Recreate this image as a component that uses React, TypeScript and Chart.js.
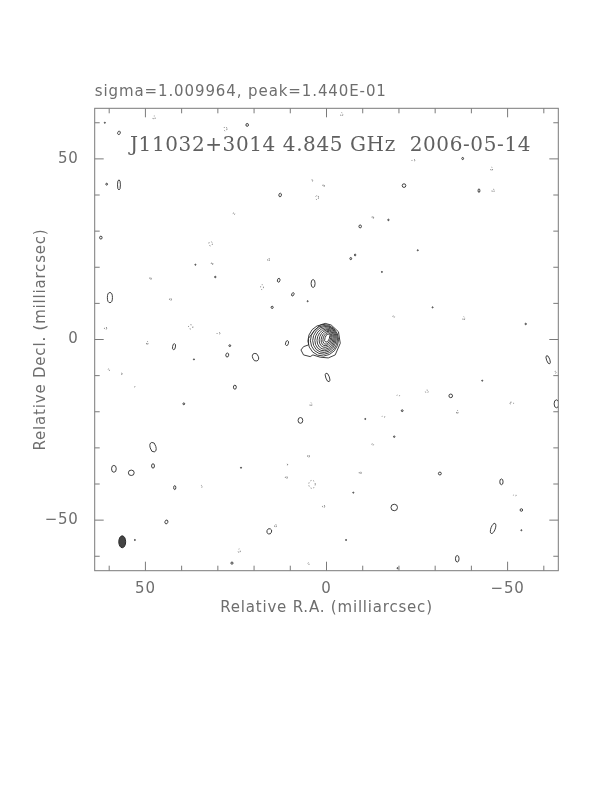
import React, { useEffect, useRef } from "react";
import { Chart, registerables } from "chart.js";

Chart.register(...registerables);

// ---------- text ----------
const HEADER = "sigma=1.009964, peak=1.440E-01";
const TITLE = "J11032+3014 4.845 GHz  2006-05-14";
const X_LABEL = "Relative R.A. (milliarcsec)";
const Y_LABEL = "Relative Decl. (milliarcsec)";

// ---------- axes (milliarcsec) ----------
const AXIS_MIN = -64;
const AXIS_MAX = 64;
const LABEL_TICKS = [-50, 0, 50];
const MINOR_TICKS = [-60, -50, -40, -30, -20, -10, 0, 10, 20, 30, 40, 50, 60];

// ---------- positive contours: [RA, Dec, width, height, tiltDeg] (mas) ----------
const POS_CONTOURS: number[][] = [
  [57.3, 57.2, 0.7, 1.0, 20], [21.9, 59.4, 0.7, 0.8, 0], [57.3, 42.8, 0.8, 2.8, 0],
  [12.8, 40.0, 0.7, 1.0, 10], [62.3, 28.2, 0.7, 0.8, 0], [13.2, 16.4, 0.7, 1.1, 15],
  [3.7, 15.5, 1.1, 2.2, 0], [9.3, 12.5, 0.6, 1.0, 25], [59.8, 11.6, 1.4, 2.8, 0],
  [30.7, 17.3, 0.4, 0.4, 0], [15.0, 8.9, 0.6, 0.6, 0], [-37.6, 50.1, 0.5, 0.6, 0],
  [-21.4, 42.6, 1.0, 1.0, 0], [-42.1, 41.2, 0.5, 1.0, 0], [-9.3, 31.3, 0.7, 0.8, 0],
  [-17.1, 33.1, 0.4, 0.4, 0], [-6.7, 22.4, 0.5, 0.6, 0], [-7.9, 23.4, 0.4, 0.5, 0],
  [-55.0, 4.3, 0.4, 0.4, 0], [42.1, -2.0, 0.8, 1.7, 10], [26.7, -1.7, 0.5, 0.5, 0],
  [27.4, -4.3, 0.8, 1.1, 10], [19.6, -4.9, 1.6, 2.2, -20], [10.9, -1.0, 0.8, 1.4, 15],
  [25.3, -13.2, 0.8, 1.1, 0], [-0.3, -10.5, 1.0, 2.5, -20], [39.4, -17.8, 0.5, 0.5, 0],
  [7.2, -22.4, 1.3, 1.6, 0], [47.9, -29.8, 1.6, 2.7, -15], [58.7, -35.8, 1.3, 1.9, 0],
  [53.9, -36.9, 1.6, 1.5, 0], [47.9, -35.0, 0.8, 1.2, 0], [41.9, -41.0, 0.6, 1.1, 0],
  [44.2, -50.5, 0.8, 1.1, 20], [15.8, -53.1, 1.3, 1.5, 20], [26.1, -61.9, 0.6, 0.6, 0],
  [-61.2, -5.6, 0.9, 2.4, -20], [-63.5, -17.8, 1.3, 2.2, 0], [-34.3, -15.6, 1.0, 1.0, 0],
  [-20.9, -19.7, 0.5, 0.5, 0], [-31.3, -37.1, 0.8, 0.8, 0], [-48.3, -39.4, 0.9, 1.6, 0],
  [-18.7, -46.5, 1.8, 1.8, 0], [-53.8, -47.2, 0.7, 0.7, 0], [-46.0, -52.3, 1.2, 3.0, 20],
  [-36.1, -60.7, 1.0, 1.8, 0], [-18.7, -26.9, 0.4, 0.4, 0], [60.7, 43.0, 0.5, 0.5, 0],
  [61.2, 60.0, 0.3, 0.3, 0], [36.2, 20.7, 0.3, 0.3, 0], [5.2, 10.6, 0.3, 0.3, 0],
  [-25.2, 24.7, 0.3, 0.3, 0], [-15.3, 18.7, 0.3, 0.3, 0], [-29.3, 8.9, 0.3, 0.3, 0],
  [-43.0, -11.4, 0.3, 0.3, 0], [-10.7, -22.0, 0.3, 0.3, 0], [-7.4, -42.4, 0.3, 0.3, 0],
  [-53.8, -52.8, 0.3, 0.3, 0], [-5.4, -55.5, 0.3, 0.3, 0], [36.6, -5.5, 0.3, 0.3, 0],
  [23.6, -35.5, 0.3, 0.3, 0], [52.9, -55.5, 0.3, 0.3, 0], [-19.6, -63.3, 0.3, 0.3, 0],
];

// ---------- negative contours: [RA, Dec, width, height] (mas) ----------
const NEG_CONTOURS: number[][] = [
  [47.6, 61.4, 0.6, 1.0], [27.9, 58.3, 0.8, 1.2], [-4.2, 62.3, 0.6, 1.0], [-24.0, 49.6, 0.8, 0.6],
  [-45.6, 47.2, 0.5, 1.0], [-46.0, 41.2, 0.6, 0.9], [4.0, 44.0, 0.4, 0.5], [2.6, 39.3, 0.8, 1.2],
  [0.8, 42.6, 0.4, 0.8], [25.6, 34.8, 0.6, 0.4], [32.0, 26.5, 1.0, 1.2], [31.6, 21.0, 0.4, 0.8],
  [16.0, 22.1, 0.5, 0.9], [48.6, 16.9, 0.4, 0.8], [17.8, 14.5, 0.8, 1.4], [43.1, 11.1, 0.5, 0.8],
  [-12.8, 33.8, 0.4, 0.8], [37.5, 3.5, 1.2, 1.2], [29.8, 1.7, 0.8, 0.6], [61.0, 3.1, 0.6, 0.8],
  [49.5, -1.0, 0.4, 1.0], [60.1, -8.4, 0.4, 0.6], [56.6, -9.5, 0.4, 0.4], [4.3, -18.0, 0.5, 1.0],
  [5.0, -32.3, 0.5, 0.8], [10.9, -34.6, 0.3, 0.4], [11.1, -38.2, 0.5, 0.8], [4.0, -40.1, 1.8, 2.2],
  [34.5, -40.7, 0.3, 0.6], [0.8, -46.2, 0.6, 0.8], [14.1, -51.6, 0.5, 0.9], [24.1, -58.5, 0.6, 1.1],
  [5.0, -62.1, 0.4, 0.6], [-63.2, -9.1, 0.4, 0.6], [-27.7, -14.4, 0.8, 0.8], [-19.8, -15.5, 0.8, 0.3],
  [-36.1, -20.1, 0.4, 1.0], [-51.1, -17.6, 1.2, 0.5], [-15.7, -21.4, 0.8, 0.4], [-12.7, -29.1, 0.6, 0.4],
  [-9.3, -36.9, 0.5, 0.8], [-52.0, -43.1, 0.8, 0.4], [-37.9, 5.8, 0.5, 1.0], [-18.5, 6.3, 0.6, 0.4],
  [53.0, -13.0, 0.3, 0.3],
];

// ---------- core: nested levels [RA, Dec, width, height, tiltDeg] ----------
const CORE_LEVELS: number[][] = [
  [0.9, -0.2, 8.4, 8.8, 20], [0.7, -0.1, 7.4, 8.0, 20], [0.55, 0.0, 6.4, 7.3, 20],
  [0.4, 0.05, 5.5, 6.5, 20], [0.25, 0.1, 4.6, 5.7, 20], [0.1, 0.2, 3.7, 4.9, 20],
  [0.0, 0.25, 2.8, 4.1, 20], [-0.1, 0.3, 2.0, 3.3, 20], [-0.2, 0.4, 1.2, 2.4, 20],
];
// outermost core contour (RA, Dec in mas)
const CORE_OUTER: number[][] = [
  [0.36, 4.46], [-1.3, 4.0], [-3.3, 2.15], [-3.8, -1.05], [-2.4, -4.27], [-0.5, -5.1],
  [1.74, -4.9], [3.75, -4.27], [4.5, -4.74], [6.34, -4.27], [7.05, -2.9], [6.34, -1.98],
  [4.96, -1.5], [4.96, 0.33], [3.58, 2.15], [1.74, 4.0], [0.36, 4.46],
];

// ---------- restoring beam [RA, Dec, width, height, tiltDeg] ----------
const BEAM: number[][] = [[56.4, -56.0, 1.9, 3.3, 0]];

const INK = "#2a2a2a";
const GREY = "#6e6e6e";
const FRAME = "#7a7a7a";

const toPts = (rows: number[][]) =>
  rows.map((r) => ({ x: r[0], y: r[1], w: r[2], h: r[3], a: r[4] || 0 }));

const spacingPlugin = {
  id: "textSpacing",
  beforeDraw(chart: any) {
    (chart.ctx as any).letterSpacing = "0.8px";
  },
};

const contourPlugin = {
  id: "contourEllipses",
  afterDatasetsDraw(chart: any) {
    const { ctx, chartArea, scales } = chart;
    const xs = scales.x;
    const ys = scales.y;
    const kx = Math.abs(xs.getPixelForValue(1) - xs.getPixelForValue(0));
    const ky = Math.abs(ys.getPixelForValue(1) - ys.getPixelForValue(0));
    ctx.save();
    ctx.beginPath();
    ctx.rect(chartArea.left, chartArea.top, chartArea.right - chartArea.left, chartArea.bottom - chartArea.top);
    ctx.clip();
    chart.data.datasets.forEach((ds: any, di: number) => {
      if (!ds.kind) return;
      const meta = chart.getDatasetMeta(di);
      meta.data.forEach((el: any, i: number) => {
        const d = ds.data[i];
        ctx.beginPath();
        ctx.ellipse(el.x, el.y, Math.max((d.w * kx) / 2, 0.5), Math.max((d.h * ky) / 2, 0.5), (d.a * Math.PI) / 180, 0, Math.PI * 2);
        if (ds.kind === "beam") {
          ctx.fillStyle = "#444";
          ctx.fill();
          ctx.strokeStyle = INK;
          ctx.lineWidth = 1;
          ctx.setLineDash([]);
          ctx.stroke();
        } else if (ds.kind === "neg") {
          ctx.strokeStyle = "#555";
          ctx.lineWidth = 0.8;
          ctx.setLineDash([1, 2]);
          ctx.stroke();
        } else {
          ctx.strokeStyle = INK;
          ctx.lineWidth = 0.9;
          ctx.setLineDash([]);
          ctx.stroke();
        }
      });
    });
    ctx.restore();
  },
};

const framePlugin = {
  id: "frameTicks",
  afterDraw(chart: any) {
    const { ctx, chartArea, scales } = chart;
    const { left, right, top, bottom } = chartArea;
    ctx.save();
    ctx.strokeStyle = FRAME;
    ctx.lineWidth = 1;
    ctx.setLineDash([]);
    ctx.strokeRect(left, top, right - left, bottom - top);
    ctx.beginPath();
    MINOR_TICKS.forEach((v) => {
      const major = LABEL_TICKS.includes(v);
      const len = major ? 9 : 5;
      const px = scales.x.getPixelForValue(v);
      const py = scales.y.getPixelForValue(v);
      ctx.moveTo(px, bottom); ctx.lineTo(px, bottom - len);
      ctx.moveTo(px, top); ctx.lineTo(px, top + len);
      ctx.moveTo(left, py); ctx.lineTo(left + len, py);
      ctx.moveTo(right, py); ctx.lineTo(right - len, py);
    });
    ctx.stroke();
    // header and title text
    ctx.fillStyle = GREY;
    ctx.textBaseline = "alphabetic";
    ctx.textAlign = "left";
    (ctx as any).letterSpacing = "0.9px";
    ctx.font = "15px 'DejaVu Sans'";
    ctx.fillText(HEADER, left, top - 12);
    ctx.textAlign = "center";
    (ctx as any).letterSpacing = "0.6px";
    ctx.font = "20px 'DejaVu Serif'";
    ctx.fillStyle = "#606060";
    ctx.fillText(TITLE, (left + right) / 2 + 4, top + 43);
    (ctx as any).letterSpacing = "0px";
    ctx.restore();
  },
};

export default function App() {
  const ref = useRef<HTMLCanvasElement | null>(null);
  useEffect(() => {
    if (!ref.current) return;
    const tickFont = { family: "'DejaVu Sans'", size: 15 };
    const chart = new Chart(ref.current, {
      type: "scatter",
      data: {
        datasets: [
          { kind: "core", data: toPts(CORE_LEVELS), pointRadius: 0, pointHoverRadius: 0 } as any,
          {
            data: CORE_OUTER.map((p) => ({ x: p[0], y: p[1] })),
            showLine: true,
            borderColor: INK,
            borderWidth: 0.9,
            pointRadius: 0,
            tension: 0,
          } as any,
          { kind: "pos", data: toPts(POS_CONTOURS), pointRadius: 0, pointHoverRadius: 0 } as any,
          { kind: "neg", data: toPts(NEG_CONTOURS), pointRadius: 0, pointHoverRadius: 0 } as any,
          { kind: "beam", data: toPts(BEAM), pointRadius: 0, pointHoverRadius: 0 } as any,
        ],
      },
      options: {
        responsive: false,
        animation: false,
        devicePixelRatio: 1,
        layout: { padding: { left: 31, top: 108.3, right: 53.7, bottom: 174.3 } },
        plugins: { legend: { display: false }, tooltip: { enabled: false } },
        events: [],
        scales: {
          x: {
            type: "linear",
            min: AXIS_MIN,
            max: AXIS_MAX,
            reverse: true,
            grid: { display: false, drawTicks: false },
            border: { display: false },
            afterBuildTicks: (s: any) => { s.ticks = LABEL_TICKS.map((v) => ({ value: v })); },
            afterFit: (s: any) => { s.height = 47; },
            ticks: {
              autoSkip: false,
              maxRotation: 0,
              padding: 9,
              color: GREY,
              font: tickFont,
              callback: (v: any) => (Number(v) < 0 ? "\u2212" + Math.abs(Number(v)) : String(v)),
            },
            title: { display: true, text: X_LABEL, color: GREY, font: tickFont, padding: { top: 0, bottom: 1 } },
          },
          y: {
            type: "linear",
            min: AXIS_MIN,
            max: AXIS_MAX,
            grid: { display: false, drawTicks: false },
            border: { display: false },
            afterBuildTicks: (s: any) => { s.ticks = LABEL_TICKS.map((v) => ({ value: v })); },
            afterFit: (s: any) => { s.width = 63.7; },
            ticks: {
              autoSkip: false,
              padding: 16,
              color: GREY,
              font: tickFont,
              callback: (v: any) => (Number(v) < 0 ? "\u2212" + Math.abs(Number(v)) : String(v)),
            },
            title: { display: true, text: Y_LABEL, color: GREY, font: tickFont, padding: { top: 1, bottom: 0 } },
          },
        },
      },
      plugins: [spacingPlugin, contourPlugin, framePlugin],
    });
    return () => chart.destroy();
  }, []);
  return (
    <div style={{ position: "absolute", left: 0, top: 0, width: 612, height: 792, background: "#fff" }}>
      <canvas ref={ref} width={612} height={792} style={{ display: "block" }} />
    </div>
  );
}
